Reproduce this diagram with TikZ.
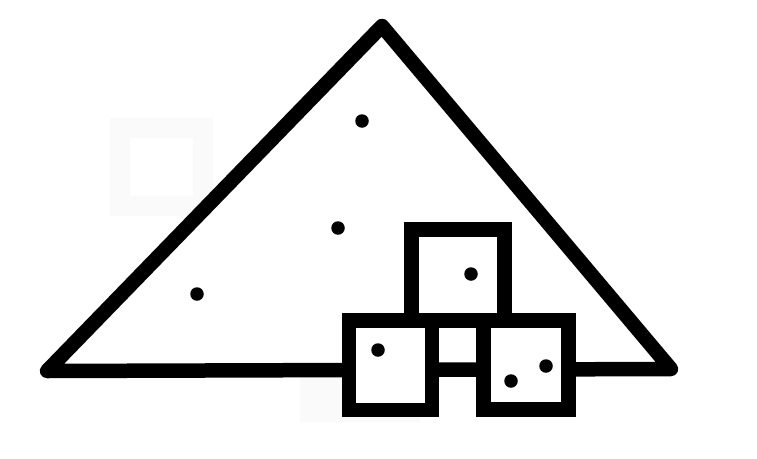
\documentclass[tikz,border=0pt]{standalone}
\begin{document}
\begin{tikzpicture}[x=1pt,y=-1pt,
  thick line/.style={line width=14.5pt},
  tri/.style={thick line, draw=black, line join=round, line cap=round},
  boxstyle/.style={thick line, draw=black, fill=white, line join=miter},
  dot/.style={circle, fill=black, inner sep=0pt, minimum size=13.5pt},
  ghost/.style={draw=black!2, line width=20pt}]
\useasboundingbox (0,0) rectangle (757,458);
% faint background marks
\draw[ghost] (120,127.5) rectangle (203,206);
\fill[black!2] (300,377) rectangle (420,422);
% triangle
\coordinate (A) at (382,26);
\coordinate (B) at (47,371);
\coordinate (C) at (671,369);
\draw[tri] (A) -- (B) -- (C) -- cycle;
% boxes
\draw[boxstyle] (411.5,229.5) rectangle (504.5,320);
\draw[boxstyle] (349,320.5) rectangle (432,410);
\draw[boxstyle] (483.5,320.5) rectangle (568.5,409.5);
\draw[thick line, line cap=rect] (432,320.5) -- (483.5,320.5);
% dots
\node[dot] (d1) at (362,121) {};
\node[dot] (d2) at (338,228) {};
\node[dot] (d3) at (197,294) {};
\node[dot] (d4) at (471,274) {};
\node[dot] (d5) at (378,350) {};
\node[dot] (d6) at (511,381) {};
\node[dot] (d7) at (546,366) {};
\end{tikzpicture}
\end{document}
